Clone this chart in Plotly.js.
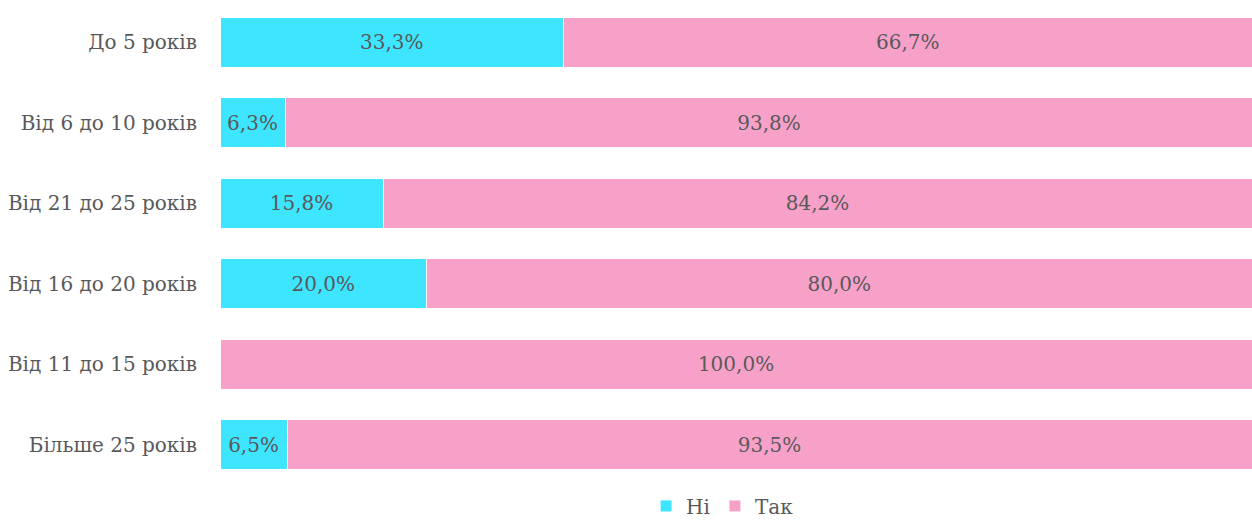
<!DOCTYPE html>
<html>
<head>
<meta charset="utf-8">
<script src="https://cdn.plot.ly/plotly-3.0.1.min.js"></script>
<style>html,body{margin:0;padding:0;background:#fff;}#chart{width:1252px;height:520px;}</style>
</head>
<body>
<div id="chart"></div>
<script>
const categories = ["До 5 років", "Від 6 до 10 років", "Від 21 до 25 років", "Від 16 до 20 років", "Від 11 до 15 років", "Більше 25 років"];
const niValues = [33.3, 6.3, 15.8, 20.0, 0, 6.5];
const takValues = [66.7, 93.8, 84.2, 80.0, 100.0, 93.5];
const seriesNames = ["Ні", "Так"];

function fmt(v) { return v > 0 ? v.toFixed(1).replace('.', ',') + '%' : ''; }

const font = {family: "'DejaVu Serif', 'Liberation Serif', serif", size: 20, color: '#595959'};

const traces = [
  {name: seriesNames[0], values: niValues, color: '#3de5ff'},
  {name: seriesNames[1], values: takValues, color: '#f7a1c9'}
].map(s => ({
  type: 'bar', orientation: 'h', name: s.name,
  x: s.values, y: categories,
  text: s.values.map(fmt), textposition: 'inside', insidetextanchor: 'middle',
  textfont: font, constraintext: 'none',
  marker: {color: s.color, line: {color: '#ffffff', width: 1}},
  hoverinfo: 'x+y+name'
}));

const layout = {
  width: 1252, height: 520,
  barmode: 'stack', bargap: 0.375,
  margin: {l: 220, r: 0, t: 2, b: 35},
  paper_bgcolor: '#fff', plot_bgcolor: '#fff',
  font: font,
  xaxis: {range: [0, 100], visible: false, fixedrange: true},
  yaxis: {autorange: 'reversed', showgrid: false, zeroline: false, showline: false, ticks: '', ticklen: 0, tickfont: font, automargin: false, ticklabelstandoff: 22},
  showlegend: true,
  legend: {orientation: 'h', x: 0.487, xanchor: 'center', yref: 'container', y: 0.027, yanchor: 'middle', font: font, traceorder: 'normal', itemwidth: 30, tracegroupgap: 0}
};

Plotly.newPlot('chart', traces, layout, {displayModeBar: false, staticPlot: true});
</script>
</body>
</html>
